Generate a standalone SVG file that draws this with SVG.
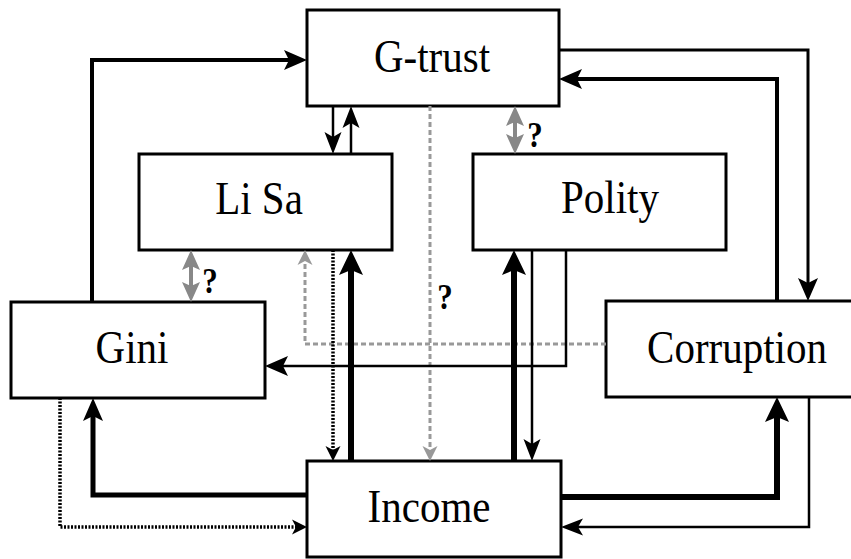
<svg xmlns="http://www.w3.org/2000/svg" width="851" height="559" viewBox="0 0 851 559">
<style>
.box{fill:#fff;stroke:#000;stroke-width:3}
.lbl{font-size:41px;fill:#000;text-anchor:middle}
.q{font-size:31px;font-weight:bold;fill:#000;text-anchor:middle}
.c{fill:none;stroke:#000}
.dot{stroke-dasharray:2 1.5}
.gd{fill:none;stroke:#999;stroke-width:3;stroke-dasharray:5 3}
.g2{fill:none;stroke:#888;stroke-width:4}
</style>
<defs>
<marker id="ah" viewBox="-16 -12 28 24" markerWidth="28" markerHeight="24" refX="0" refY="0" markerUnits="userSpaceOnUse" orient="auto"><path d="M10,0 L-13,-10 L-8,0 L-13,10 Z" fill="#000"/></marker>
<marker id="ahs" viewBox="-16 -12 28 24" markerWidth="28" markerHeight="24" refX="0" refY="0" markerUnits="userSpaceOnUse" orient="auto"><path d="M10,0 L-12,-8.5 L-7,0 L-12,8.5 Z" fill="#000"/></marker>
<marker id="ahb" viewBox="-18 -14 30 28" markerWidth="30" markerHeight="28" refX="0" refY="0" markerUnits="userSpaceOnUse" orient="auto"><path d="M10,0 L-15,-12 L-10,0 L-15,12 Z" fill="#000"/></marker>
<marker id="ahd" viewBox="-16 -12 28 24" markerWidth="28" markerHeight="24" refX="0" refY="0" markerUnits="userSpaceOnUse" orient="auto"><path d="M10,0 L-5,-7.5 L-1,0 L-5,7.5 Z" fill="#000"/></marker>
<marker id="ahgd" viewBox="-16 -12 28 24" markerWidth="28" markerHeight="24" refX="0" refY="0" markerUnits="userSpaceOnUse" orient="auto"><path d="M10,0 L-5,-7.5 L-1,0 L-5,7.5 Z" fill="#999"/></marker>
<marker id="ahg" viewBox="-16 -12 28 24" markerWidth="28" markerHeight="24" refX="0" refY="0" markerUnits="userSpaceOnUse" orient="auto-start-reverse"><path d="M10,0 L-10,-9 L-6,0 L-10,9 Z" fill="#888"/></marker>
</defs>

<g id="gtrust"><rect class="box" x="307" y="10" width="252" height="96"/><text class="lbl" font-family="Liberation Serif, Times New Roman, serif" transform="translate(432,72) scale(1,1.15)">G-trust</text></g>
<g id="lisa"><rect class="box" x="139" y="154" width="253" height="96"/><text class="lbl" font-family="Liberation Serif, Times New Roman, serif" transform="translate(259,214) scale(1,1.15)">Li Sa</text></g>
<g id="polity"><rect class="box" x="473" y="154" width="253" height="96"/><text class="lbl" font-family="Liberation Serif, Times New Roman, serif" transform="translate(610,213) scale(1,1.15)">Polity</text></g>
<g id="gini"><rect class="box" x="11" y="302" width="254" height="96"/><text class="lbl" font-family="Liberation Serif, Times New Roman, serif" transform="translate(132,363) scale(1,1.15)">Gini</text></g>
<g id="corruption"><rect class="box" x="606" y="301" width="260" height="96"/><text class="lbl" font-family="Liberation Serif, Times New Roman, serif" transform="translate(737,363) scale(1,1.15)">Corruption</text></g>
<g id="income"><rect class="box" x="307" y="461" width="254" height="96"/><text class="lbl" font-family="Liberation Serif, Times New Roman, serif" transform="translate(429,522) scale(1,1.15)">Income</text></g>

<g id="connectors">
<path class="c" stroke-width="4" d="M92,302 V60 H297" marker-end="url(#ah)"/>
<path class="c" stroke-width="2.5" d="M333,106 V144" marker-end="url(#ahs)"/>
<path class="c" stroke-width="2.5" d="M351,154 V116" marker-end="url(#ahs)"/>
<path class="c" stroke-width="3" d="M559,50 H808 V291" marker-end="url(#ah)"/>
<path class="c" stroke-width="4" d="M777,301 V79 H569" marker-end="url(#ah)"/>
<path class="g2" d="M515,116 V144" marker-start="url(#ahg)" marker-end="url(#ahg)"/>
<path class="g2" d="M191,260 V292" marker-start="url(#ahg)" marker-end="url(#ahg)"/>
<path class="gd" d="M430,106 V451" marker-end="url(#ahgd)"/>
<path class="gd" d="M606,344 H305 V260" marker-end="url(#ahgd)"/>
<path class="c" stroke-width="2.5" d="M566,250 V366 H275" marker-end="url(#ah)"/>
<path class="c" stroke-width="6" d="M514,461 V260" marker-end="url(#ahb)"/>
<path class="c" stroke-width="2.5" d="M532,250 V451" marker-end="url(#ahs)"/>
<path class="c dot" stroke-width="3.5" d="M333,250 V451" marker-end="url(#ahd)"/>
<path class="c" stroke-width="6" d="M351,461 V260" marker-end="url(#ahb)"/>
<path class="c" stroke-width="5" d="M307,495 H93 V408" marker-end="url(#ah)"/>
<path class="c dot" stroke-width="3.5" d="M60,398 V527 H297" marker-end="url(#ahd)"/>
<path class="c" stroke-width="6" d="M561,497 H777 V407" marker-end="url(#ahb)"/>
<path class="c" stroke-width="2.5" d="M809,397 V527 H571" marker-end="url(#ahs)"/>
<text class="q" font-family="Liberation Serif, Times New Roman, serif" transform="translate(210,293) scale(1,1.15)">?</text>
<text class="q" font-family="Liberation Serif, Times New Roman, serif" transform="translate(535,147) scale(1,1.15)">?</text>
<text class="q" font-family="Liberation Serif, Times New Roman, serif" transform="translate(445,309) scale(1,1.15)">?</text>
</g>
</svg>
